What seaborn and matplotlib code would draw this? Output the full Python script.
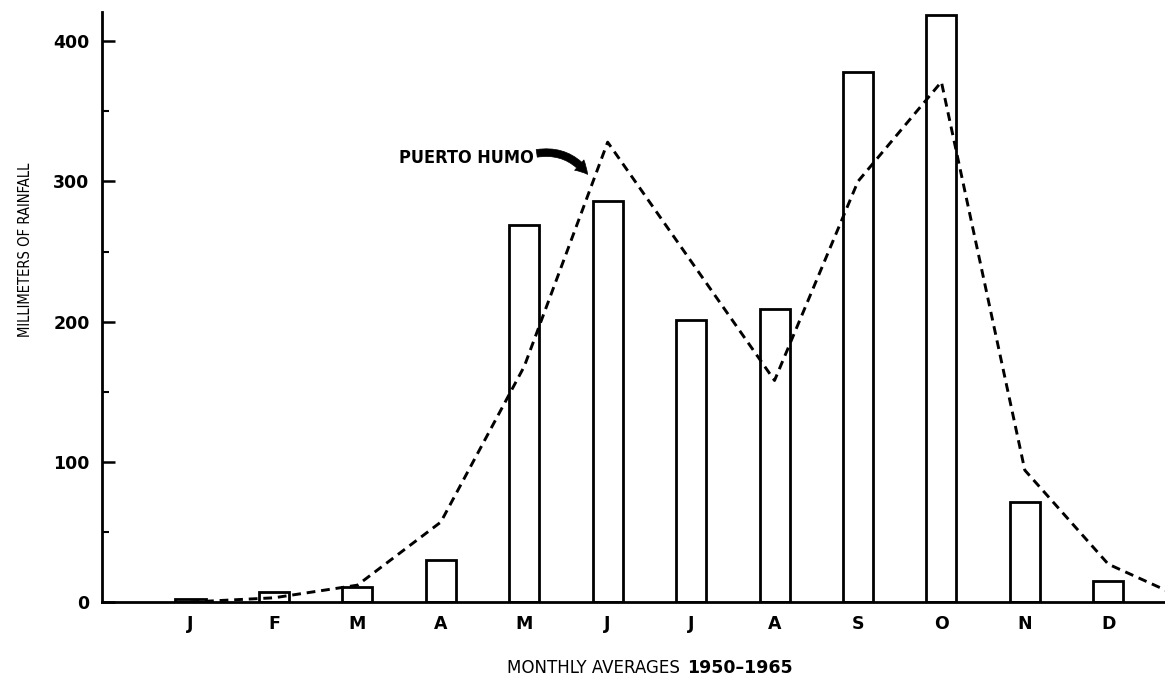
import matplotlib as mpl

mpl.use('Agg')
import matplotlib.pyplot as plt
from matplotlib.ticker import MultipleLocator
from matplotlib import font_manager
import seaborn as sns
import pandas as pd
import numpy as np

# monthly rainfall (mm), bars
months = ['Jan', 'Feb', 'Mar', 'Apr', 'May', 'Jun',
          'Jul', 'Aug', 'Sep', 'Oct', 'Nov', 'Dec']
month_letters = ['J', 'F', 'M', 'A', 'M', 'J', 'J', 'A', 'S', 'O', 'N', 'D']
rainfall = [2, 7, 11, 30, 269, 286, 201, 209, 378, 419, 71, 15]

# Puerto Humo curve (dashed), runs on into the next January
humo_values = [0, 3, 12, 57, 168, 328, 243, 158, 300, 371, 94, 27, 0]

y_ticks = [0, 100, 200, 300, 400]

sns.set_style('white')
plt.rcParams['font.family'] = ['DejaVu Sans']
plt.rcParams['text.color'] = 'black'
plt.rcParams['xtick.color'] = 'black'
plt.rcParams['ytick.color'] = 'black'

# narrow face for the hand-lettered axis titles, if there is one
names = {f.name for f in font_manager.fontManager.ttflist}
narrow = 'Liberation Sans Narrow' if 'Liberation Sans Narrow' in names else 'DejaVu Sans'

bars = pd.DataFrame({'pos': np.arange(len(months)), 'mm': rainfall})
humo = pd.DataFrame({'pos': np.arange(len(humo_values)), 'mm': humo_values})

fig = plt.figure(figsize=(11.65, 6.8), dpi=100)
ax = fig.add_axes([0.0876, 0.1147, 0.9124, 0.868])

sns.barplot(data=bars, x='pos', y='mm', native_scale=True, fill=False,
            color='black', linewidth=2.0, width=0.36, ax=ax, zorder=3)
sns.lineplot(data=humo, x='pos', y='mm', color='black', linewidth=2.1,
             ax=ax, zorder=4, linestyle=(0, (3.0, 2.0)))

ax.set_xlim(-1.06, 11.68)
ax.set_ylim(0, 421)

ax.set_xticks(np.arange(len(months)))
ax.set_xticklabels(month_letters, fontsize=12.5, fontweight='bold')
ax.set_yticks(y_ticks)
ax.set_yticklabels([str(v) for v in y_ticks], fontsize=12.5, fontweight='bold')
ax.yaxis.set_minor_locator(MultipleLocator(50))
ax.tick_params(axis='x', length=0, pad=9)
ax.tick_params(axis='y', which='major', direction='in', left=True,
               length=9, width=1.8, pad=9)
ax.tick_params(axis='y', which='minor', direction='in', left=True,
               length=5, width=1.5)

for s in ['top', 'right']:
    ax.spines[s].set_visible(False)
for s in ['left', 'bottom']:
    ax.spines[s].set_linewidth(2.0)
    ax.spines[s].set_color('black')

ax.set_xlabel('')
ax.set_ylabel('')

fig.text(0.022, 0.632, 'MILLIMETERS OF RAINFALL', rotation=90,
         ha='center', va='center', fontsize=10.6,
         family=narrow, fontstretch='condensed')
fig.text(0.588, 0.004, 'MONTHLY AVERAGES ', ha='right', va='bottom',
         fontsize=13.3, family=narrow, fontstretch='condensed')
fig.text(0.590, 0.004, '1950\u20131965', ha='left', va='bottom',
         fontsize=12.5, fontweight='bold', family=narrow)

ax.text(4.11, 317, 'PUERTO HUMO', fontsize=13, fontweight='bold',
        ha='right', va='center', family=narrow, fontstretch='condensed')
ax.annotate('', xy=(4.76, 305), xytext=(4.15, 320),
            arrowprops=dict(arrowstyle='simple,head_length=0.9,head_width=1.0,tail_width=0.55',
                            connectionstyle='arc3,rad=-0.3',
                            fc='black', ec='black', lw=0.5,
                            shrinkA=0, shrinkB=0))

plt.savefig('out.png', dpi=100)
